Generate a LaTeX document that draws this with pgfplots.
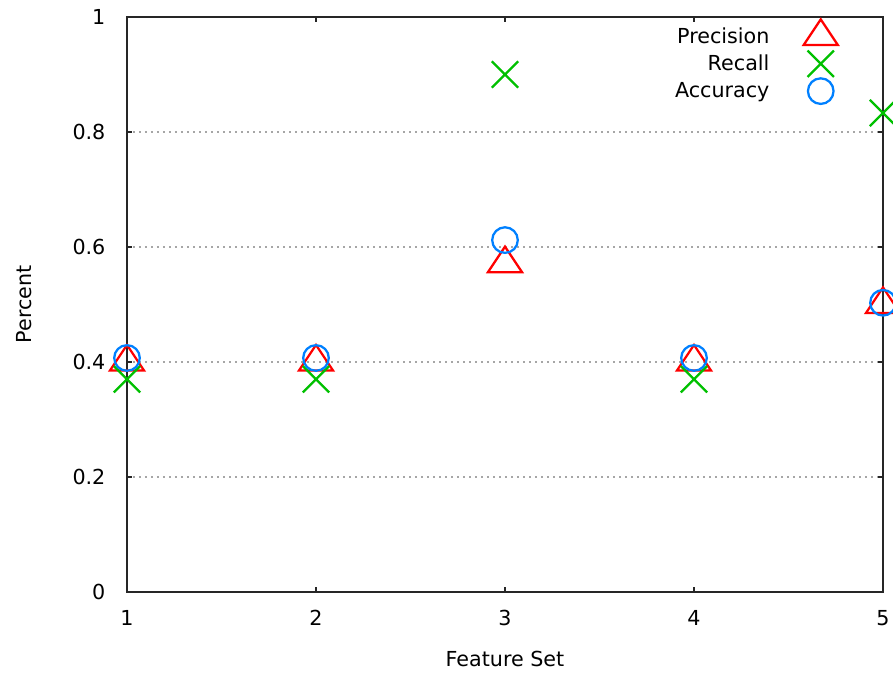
\documentclass[border=0pt]{standalone}
\usepackage{pgfplots}
\pgfplotsset{compat=1.18}
\usepackage{fontspec}
\setmainfont{DejaVu Sans}

\definecolor{gpred}{RGB}{255,0,0}
\definecolor{gpgreen}{RGB}{0,192,0}
\definecolor{gpblue}{RGB}{0,128,255}

% gnuplot-style triangle: apex at 4/3 r above, base at 2/3 r below
\pgfdeclareplotmark{gtri}{%
  \pgfpathmoveto{\pgfqpoint{0pt}{1.3333\pgfplotmarksize}}%
  \pgfpathlineto{\pgfqpoint{-1.3333\pgfplotmarksize}{-0.6667\pgfplotmarksize}}%
  \pgfpathlineto{\pgfqpoint{1.3333\pgfplotmarksize}{-0.6667\pgfplotmarksize}}%
  \pgfpathclose\pgfusepathqstroke}

\begin{document}
\begin{tikzpicture}
\useasboundingbox (0,0) rectangle (669.75pt,507.75pt);
\begin{axis}[
  at={(95.25pt,63.75pt)}, anchor=south west,
  scale only axis, width=567pt, height=431.25pt,
  xmin=1, xmax=5, ymin=0, ymax=1,
  xtick={1,2,3,4,5},
  ytick={0,0.2,0.4,0.6,0.8,1},
  clip=false,
  axis line style={black!85, line width=0.8pt},
  major tick style={black!85, line width=0.8pt},
  major tick length=4pt,
  tick align=inside,
  ymajorgrids,
  grid style={gray!70, line width=0.8pt, dash pattern=on 1.5pt off 3pt},
  font=\fontsize{15.5}{18}\selectfont,
  /pgf/number format/assume math mode=true,
  yticklabel style={inner sep=0pt, anchor=east, xshift=-16pt},
  xticklabel style={inner sep=0pt, anchor=north, yshift=-13.5pt},
  xlabel={Feature Set}, ylabel={Percent},
  xlabel style={at={(axis description cs:0.5,-0.1165)}, anchor=center},
  ylabel style={at={(axis description cs:-0.1362,0.5)}, anchor=center},
  legend plot pos=right,
  legend image code/.code={%
    \path[draw=none, fill=none] (-16pt,-10pt) rectangle (16pt,10pt);
    \draw[#1] plot coordinates {(0pt,0pt)};},
  legend style={draw=none, fill=none, inner sep=0pt,
    at={(axis description cs:1,1)}, anchor=north east,
    xshift=-30.5pt, yshift=-1.6pt,
    column sep=20.5pt, row sep=0.5pt,
    cells={anchor=east},
    font=\fontsize{15.5}{18}\selectfont},
  every axis plot/.append style={only marks, mark size=9.6pt, line width=1.7pt},
]
\addplot[gpred, mark=gtri] coordinates {(1,0.4) (2,0.4) (3,0.571) (4,0.4) (5,0.5)};
\addlegendentry{Precision}
\addplot[gpgreen, mark=x, mark size=14pt] coordinates {(1,0.37) (2,0.37) (3,0.9) (4,0.37) (5,0.833)};
\addlegendentry{Recall}
\addplot[gpblue, mark=o] coordinates {(1,0.407) (2,0.407) (3,0.612) (4,0.407) (5,0.503)};
\addlegendentry{Accuracy}
\end{axis}
\end{tikzpicture}
\end{document}
